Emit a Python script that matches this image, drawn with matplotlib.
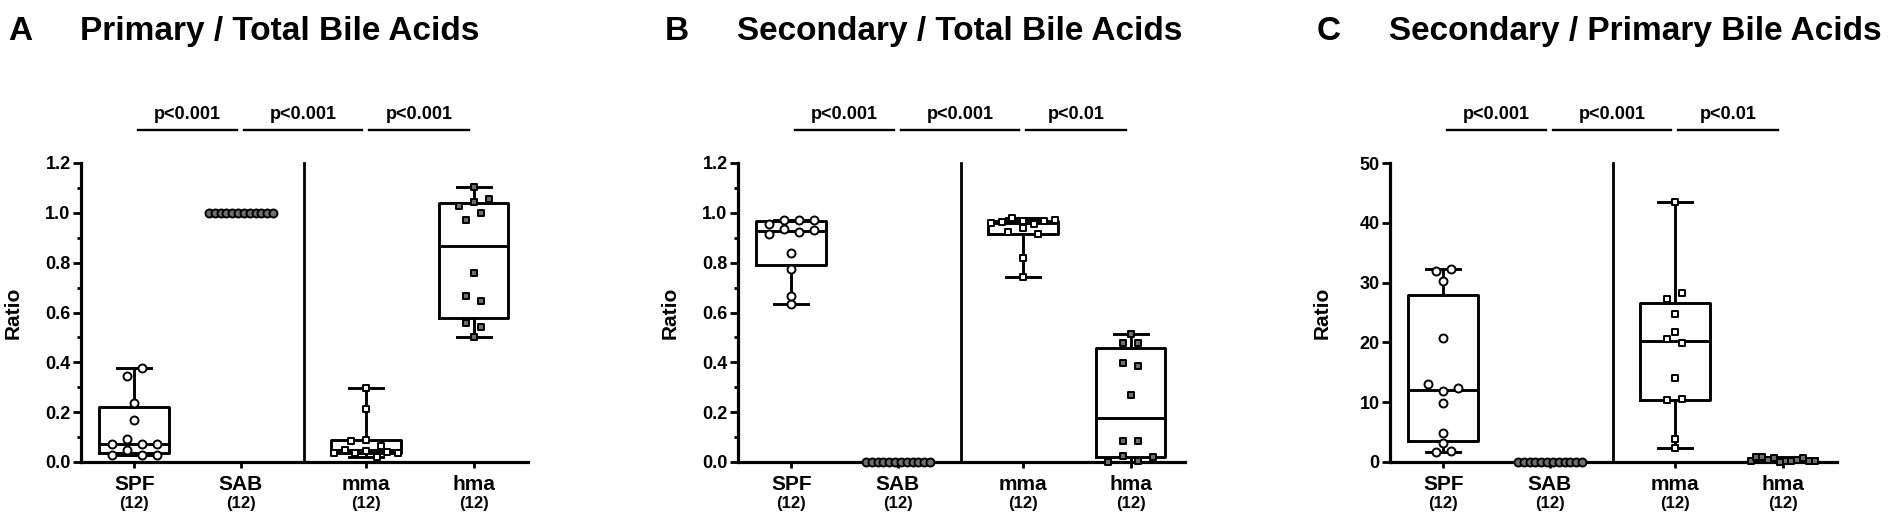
import numpy as np
import matplotlib
matplotlib.use('Agg')
import matplotlib.pyplot as plt
from matplotlib.ticker import MultipleLocator, FormatStrFormatter
from matplotlib.transforms import blended_transform_factory

plt.rcParams['font.family'] = ['Liberation Sans', 'DejaVu Sans']
plt.rcParams['font.weight'] = 'bold'
plt.rcParams['axes.labelweight'] = 'bold'

# ---- data, listed left to right within each row ----
groups = ['SPF', 'SAB', 'mma', 'hma']
group_n = ['(12)', '(12)', '(12)', '(12)']
letters = ['A', 'B', 'C']
titles = ['Primary / Total Bile Acids',
          'Secondary / Total Bile Acids',
          'Secondary / Primary Bile Acids']

# A: primary / total
a_spf = [0.028, 0.048, 0.029, 0.030, 0.073, 0.091, 0.072, 0.074, 0.169, 0.238, 0.346, 0.376]
a_sab = [1.0] * 12
a_mma = [0.036, 0.048, 0.037, 0.045, 0.021, 0.042, 0.036, 0.086, 0.088, 0.063, 0.211, 0.296]
a_hma = [0.500, 0.557, 0.543, 0.667, 0.646, 0.760, 0.970, 1.000, 1.029, 1.045, 1.054, 1.102]
a_pvals = ['p<0.001', 'p<0.001', 'p<0.001']

# B: secondary / total
b_spf = [0.633, 0.666, 0.773, 0.837, 0.915, 0.934, 0.925, 0.931, 0.955, 0.971, 0.973, 0.973]
b_sab = [0.0] * 12
b_mma = [0.744, 0.817, 0.924, 0.938, 0.914, 0.960, 0.964, 0.980, 0.968, 0.957, 0.967, 0.971]
b_hma = [0.001, 0.024, 0.005, 0.019, 0.086, 0.086, 0.269, 0.398, 0.387, 0.479, 0.479, 0.514]
b_pvals = ['p<0.001', 'p<0.001', 'p<0.01']

# C: secondary / primary
c_spf = [1.6, 1.8, 3.1, 4.9, 9.9, 13.0, 11.9, 12.3, 20.8, 30.3, 31.9, 32.2]
c_sab = [0.0] * 12
c_mma = [2.4, 3.8, 10.4, 10.6, 14.0, 20.6, 19.9, 21.8, 24.7, 27.2, 28.2, 43.4]
c_hma = [0.2, 0.9, 0.8, 0.3, 0.7, 0.05, 0.2, 0.25, 0.4, 0.6, 0.2, 0.1]
c_pvals = ['p<0.001', 'p<0.001', 'p<0.01']

panels = [
    dict(data=[a_spf, a_sab, a_mma, a_hma], pvals=a_pvals, ymax=1.2, major=0.2, minor=0.1, fmt='%.1f'),
    dict(data=[b_spf, b_sab, b_mma, b_hma], pvals=b_pvals, ymax=1.2, major=0.2, minor=0.1, fmt='%.1f'),
    dict(data=[c_spf, c_sab, c_mma, c_hma], pvals=c_pvals, ymax=50, major=10, minor=None, fmt='%d'),
]

# ---- layout ----
W, H = 1902, 520
pos = [0, 1, 2.17, 3.18]
divider = 1.59
ax_left_px = [81, 738, 1390]
ax_w_px, ax_h_px, ax_bot_px = 447, 299, 58
xlim = (-0.5, 3.69)
px_per_x = ax_w_px / (xlim[1] - xlim[0])

markers = ['o', 'o', 's', 's']
faces = ['white', '#6e6e6e', 'white', '#6e6e6e']
sizes = [33, 33, 25, 25]
LW = 2.1


def swarm(vals, ymax):
    # points within one marker height form a row, spread symmetrically
    v = np.asarray(vals, dtype=float)
    order = np.argsort(v, kind='stable')
    ppu = ax_h_px / ymax
    step = 15 / px_per_x
    max_span = 64 / px_per_x
    offs = np.zeros(len(v))
    i = 0
    while i < len(v):
        j = i
        while j + 1 < len(v) and (v[order[j + 1]] - v[order[i]]) * ppu < 8:
            j += 1
        members = np.sort(order[i:j + 1])
        k = len(members)
        st = min(step, max_span / max(k - 1, 1))
        offs[members] = (np.arange(k) - (k - 1) / 2) * st
        i = j + 1
    return offs


fig = plt.figure(figsize=(W / 100, H / 100), dpi=100)

for p, panel in enumerate(panels):
    ax = fig.add_axes([ax_left_px[p] / W, ax_bot_px / H, ax_w_px / W, ax_h_px / H])
    ymax = panel['ymax']

    stats = []
    for vals in panel['data']:
        v = np.asarray(vals, dtype=float)
        q1, med, q3 = np.percentile(v, [25, 50, 75], method='weibull')
        stats.append(dict(med=med, q1=q1, q3=q3, whislo=v.min(), whishi=v.max(), fliers=[]))
    lp = dict(color='black', linewidth=LW)
    ax.bxp(stats, positions=pos, widths=0.654, capwidths=0.32, showfliers=False,
           boxprops=lp, whiskerprops=lp, capprops=lp, medianprops=lp, manage_ticks=False)

    for i, vals in enumerate(panel['data']):
        offs = swarm(vals, ymax)
        ax.scatter(np.array(pos[i]) + offs, vals, marker=markers[i], s=sizes[i],
                   facecolor=faces[i], edgecolor='black', linewidths=1.4,
                   zorder=4, clip_on=False)

    ax.plot([divider, divider], [0, ymax], color='black', lw=2.0, clip_on=False)

    ax.set_xlim(*xlim)
    ax.set_ylim(0, ymax)
    for side in ['top', 'right']:
        ax.spines[side].set_visible(False)
    for side in ['left', 'bottom']:
        ax.spines[side].set_linewidth(2.3)
    ax.yaxis.set_major_locator(MultipleLocator(panel['major']))
    ax.yaxis.set_major_formatter(FormatStrFormatter(panel['fmt']))
    if panel['minor']:
        ax.yaxis.set_minor_locator(MultipleLocator(panel['minor']))
    ax.tick_params(axis='y', which='major', length=5.5, width=2, labelsize=13, pad=2)
    ax.tick_params(axis='y', which='minor', length=3, width=2)
    ax.tick_params(axis='x', length=4, width=2, labelsize=15, pad=5)
    ax.set_xticks(pos)
    ax.set_xticklabels(groups)
    ax.set_ylabel('Ratio', fontsize=15, fontweight='bold')
    ax.yaxis.set_label_coords(-0.13, 0.5)

    tr = blended_transform_factory(ax.transData, ax.transAxes)
    for i, n in enumerate(group_n):
        ax.text(pos[i], -0.153, n, transform=tr, ha='center', va='baseline', fontsize=12)

    for i, lab in enumerate(panel['pvals']):
        x0, x1 = pos[i] + 0.03, pos[i + 1] - 0.04
        ax.plot([x0, x1], [1.11, 1.11], transform=tr, color='black', lw=1.7, clip_on=False)
        ax.text((x0 + x1) / 2, 1.147, lab, transform=tr, ha='center', va='baseline', fontsize=13)

letter_x = [8, 665, 1317]
title_x = [80, 737, 1389]
for p in range(3):
    fig.text(letter_x[p] / W, 1 - 40 / H, letters[p], ha='left', va='baseline', fontsize=24)
    fig.text(title_x[p] / W, 1 - 40 / H, titles[p], ha='left', va='baseline', fontsize=24)

fig.savefig('out.png', dpi=100)
